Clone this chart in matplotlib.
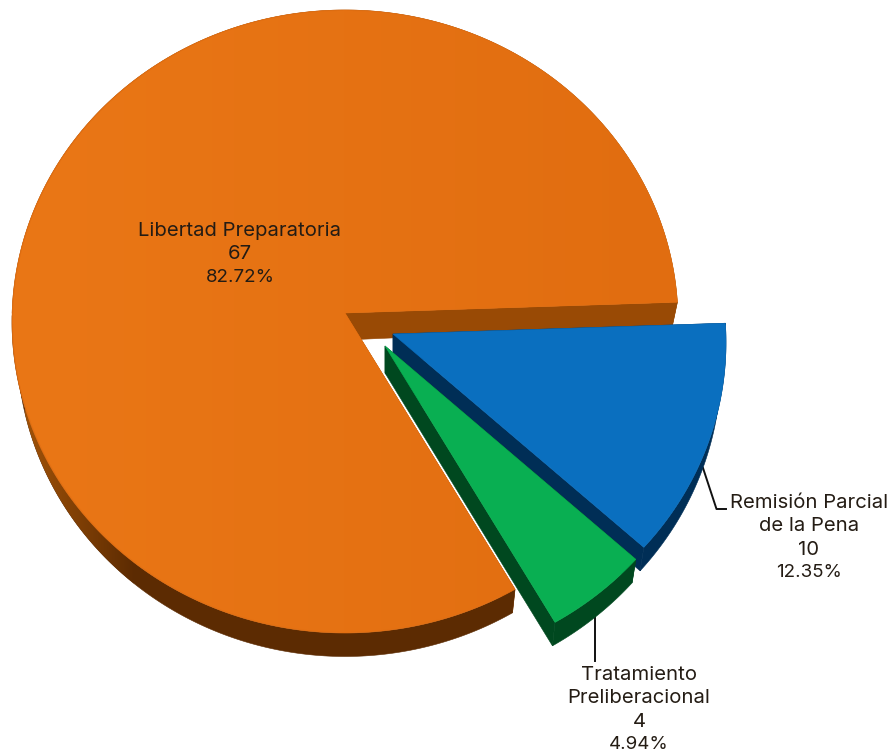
import numpy as np
import matplotlib
matplotlib.use("Agg")
import matplotlib.pyplot as plt
from matplotlib.colors import LinearSegmentedColormap
from matplotlib.patches import Polygon

# Data
categories = ["Libertad Preparatoria", "Remisión Parcial\nde la Pena", "Tratamiento\nPreliberacional"]
values = [67, 10, 4]
percent_labels = ["82.72%", "12.35%", "4.94%"]

# Style
top_colors = ["#E36F11", "#0A6FBF", "#09AF52"]
face_colors = ["#994A05", "#002E56", "#00481F"]
rim_colors = ["#5C2B02", "#002E56", "#00481F"]
apexes = [(345, 313), (393, 334), (385, 346)]
label_pos = [(240, 254), (809, 538), (639, 710)]
start_angle = 2.0
RX, RY, OFF, TILT = 333.0, 311.5, 8.5, 0.93
DEPTH_RIM, DEPTH_APEX, SHRINK = 23.5, 27.0, 0.985
LINE_STEP = 23.2
W, H = 892, 753

plt.rcParams["font.family"] = ["Inter", "DejaVu Sans"]
fig = plt.figure(figsize=(W / 100, H / 100), dpi=100)
ax = fig.add_axes([0, 0, 1, 1])
ax.axis("off")


def rim(apex, theta):
    """Point on the projected rim seen from the apex along angles theta (deg)."""
    th = np.radians(theta)
    dx, dy = np.cos(th), -TILT * np.sin(th)
    a = (dx / RX) ** 2 + (dy / RY) ** 2
    b = -2 * OFF * dy / RY ** 2
    c = (OFF / RY) ** 2 - 1
    t = (-b + np.sqrt(b * b - 4 * a * c)) / (2 * a)
    return apex[0] + t * dx, apex[1] + t * dy


def lower(apex, x, y):
    return apex[0] + (x - apex[0]) * SHRINK, y + DEPTH_RIM


def shade(extent, c0, c1, clip_xy, zorder):
    """Horizontal colour ramp clipped to a polygon."""
    cmap = LinearSegmentedColormap.from_list("ramp", [c0, c1])
    im = ax.imshow(np.linspace(0, 1, 256)[None, :], cmap=cmap, extent=extent,
                   aspect="auto", zorder=zorder, interpolation="bilinear")
    im.set_clip_path(Polygon(clip_xy, closed=True, transform=ax.transData))


total = sum(values)
spans = {}
ang = start_angle
for i in [1, 2, 0]:
    sweep = values[i] / total * 360
    spans[i] = (ang, ang - sweep)
    ang -= sweep

for i in [0, 1, 2]:
    a0, a1 = spans[i]
    apex = apexes[i]
    th = np.linspace(a0, a1, 600)
    x, y = rim(apex, th)
    bx, by = lower(apex, x, y)
    lo_apex = (apex[0], apex[1] + DEPTH_APEX)
    kw = dict(linewidth=0.4, zorder=2 + i)
    # radial faces
    ax.fill([apex[0], x[0], bx[0], lo_apex[0]], [apex[1], y[0], by[0], lo_apex[1]],
            color=face_colors[i], **kw)
    ax.fill([apex[0], x[-1], bx[-1], lo_apex[0]], [apex[1], y[-1], by[-1], lo_apex[1]],
            color=face_colors[i], **kw)
    if i == 0:
        # upper wall (only a sliver shows at the start edge) takes the face colour
        up = (th % 360) < 180
        ax.fill(np.r_[x[up], bx[up][::-1]], np.r_[y[up], by[up][::-1]], color=face_colors[0], **kw)
        dn = ~up
        ax.fill(np.r_[x[dn], bx[dn][::-1]], np.r_[y[dn], by[dn][::-1]], color=rim_colors[0], **kw)
        wall_xy = np.c_[np.r_[x[dn], bx[dn][::-1]], np.r_[y[dn], by[dn][::-1]]]
        shade((25, 135, H, 0), "#A05208", "#5C2B02", wall_xy[wall_xy[:, 0] < 135], 2.1)
        ax.fill(np.r_[apex[0], x], np.r_[apex[1], y], color=top_colors[0], linewidth=0.4, zorder=2.2)
        # gently graded top, kept just inside the smooth outline
        ix, iy = apex[0] + (x - apex[0]) * 0.997, apex[1] + (y - apex[1]) * 0.997
        shade((12, 677, H, 0), "#EA7716", "#E16D10",
              np.c_[np.r_[apex[0], ix], np.r_[apex[1], iy]], 2.3)
    else:
        ax.fill(np.r_[x, bx[::-1]], np.r_[y, by[::-1]], color=rim_colors[i], **kw)
        ax.fill(np.r_[apex[0], x], np.r_[apex[1], y], color=top_colors[i], **kw)

ax.set_xlim(0, W)
ax.set_ylim(H, 0)

# Leader lines
ax.plot([703, 716.5, 726], [468, 509, 509], color="#111111", lw=1.4, zorder=1)
ax.plot([595, 595], [617, 661], color="#111111", lw=1.4, zorder=1)

for i, (px, py) in enumerate(label_pos):
    lines = categories[i].split("\n") + [str(values[i]), percent_labels[i]]
    y0 = py - (len(lines) - 1) * LINE_STEP / 2
    for k, line in enumerate(lines):
        size = 13.5 if k == len(lines) - 1 else 14.6
        ax.text(px, y0 + k * LINE_STEP, line, ha="center", va="center", fontsize=size,
                color="#241c14", zorder=10, clip_on=False)

fig.savefig("out.png", dpi=100)
